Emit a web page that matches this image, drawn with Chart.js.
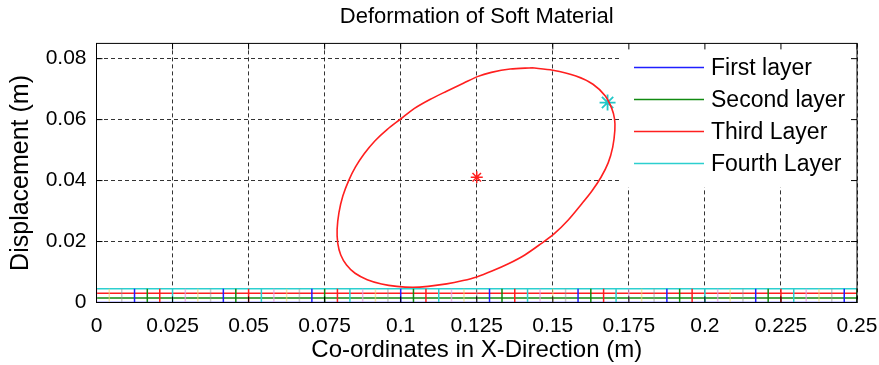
<!DOCTYPE html>
<html>
<head>
<meta charset="utf-8">
<script src="https://cdn.jsdelivr.net/npm/chart.js@4.4.0/dist/chart.umd.min.js"></script>
<style>
    html, body { margin: 0; padding: 0; background: #fff; }
    #wrap { width: 879px; height: 365px; }
</style>
</head>
<body>
<div id="wrap"><canvas id="deformChart"></canvas></div>
<script>
// Axis ticks
const xTicks = [0, 0.025, 0.05, 0.075, 0.1, 0.125, 0.15, 0.175, 0.2, 0.225, 0.25];
const yTicks = [0, 0.02, 0.04, 0.06, 0.08];

// Layers (straight lines along the bottom)
const layerNames = ['First layer', 'Second layer', 'Third Layer', 'Fourth Layer'];
const layerY = [0, 0.0015, 0.003, 0.0045];
const layerSpan = [0, 0.25];

// Mesh node positions on the layers, grouped by the colour they are drawn in
const nodesMagenta = [0, 0.0292, 0.0583, 0.0875, 0.1167, 0.1458, 0.175, 0.2042, 0.2333];
const nodesYellow = [0.0042, 0.0333, 0.0625, 0.0917, 0.1208, 0.15, 0.1792, 0.2083, 0.2375];
const nodesBlack = [0.0083, 0.0375, 0.0667, 0.0958, 0.125, 0.1542, 0.1833, 0.2125, 0.2417];
const nodesBlue = [0.0125, 0.0417, 0.0708, 0.1, 0.1292, 0.1583, 0.1875, 0.2167, 0.2458];
const nodesGreen = [0.0167, 0.0458, 0.075, 0.1042, 0.1333, 0.1625, 0.1917, 0.2208, 0.25];
const nodesRed = [0.0208, 0.05, 0.0792, 0.1083, 0.1375, 0.1667, 0.1958, 0.225];
const nodesCyan = [0.025, 0.0542, 0.0833, 0.1125, 0.1417, 0.1708, 0.2, 0.2292];

// Deformed contour (closed loop)
const contourX = [0.1431, 0.1360, 0.1298, 0.1252, 0.1206, 0.1151, 0.1096, 0.1044, 0.1000, 0.0956,
    0.0915, 0.0880, 0.0851, 0.0829, 0.0810, 0.0797, 0.0791, 0.0793, 0.0803, 0.0822,
    0.0850, 0.0890, 0.0937, 0.0987, 0.1040, 0.1090, 0.1151, 0.1205, 0.1250, 0.1300,
    0.1354, 0.1408, 0.1460, 0.1505, 0.1550, 0.1592, 0.1628, 0.1658, 0.1682, 0.1697,
    0.1704, 0.1703, 0.1694, 0.1672, 0.1632, 0.1576, 0.1500, 0.1431];
const contourY = [0.0770, 0.0766, 0.0755, 0.0741, 0.0719, 0.0693, 0.0666, 0.0636, 0.0602, 0.0568,
    0.0530, 0.0488, 0.0444, 0.0400, 0.0350, 0.0295, 0.0240, 0.0195, 0.0156, 0.0123,
    0.0096, 0.0075, 0.0061, 0.0053, 0.0050, 0.0053, 0.0061, 0.0072, 0.0084, 0.0103,
    0.0127, 0.0156, 0.0192, 0.0226, 0.0270, 0.0320, 0.0365, 0.0410, 0.0458, 0.0510,
    0.0565, 0.0602, 0.0636, 0.0678, 0.0716, 0.0743, 0.0762, 0.0770];
const centerPoint = [0.125, 0.0411];
const edgePoint = [0.168, 0.0656];

const layerColors = ['#1f1fff', '#118a11', '#ff1f1f', '#2ccfcf'];
const fontFamily = "'Liberation Sans', Arial, Helvetica, sans-serif";

// vertical segments through all layers at every node
function nodeSegments(xs) {
    const pts = [];
    xs.forEach(x => {
        pts.push({ x: x, y: layerY[0] }, { x: x, y: layerY[layerY.length - 1] }, { x: x, y: null });
    });
    return pts;
}

const nodeGroups = [
    { xs: nodesMagenta, color: 'rgba(225,160,225,0.7)' },
    { xs: nodesYellow, color: 'rgba(235,215,120,0.6)' },
    { xs: nodesBlack, color: 'rgba(150,150,150,0.5)' },
    { xs: nodesBlue, color: layerColors[0] },
    { xs: nodesGreen, color: layerColors[1] },
    { xs: nodesRed, color: layerColors[2] },
    { xs: nodesCyan, color: layerColors[3] }
];

const datasets = [];

nodeGroups.forEach(g => {
    datasets.push({
        data: nodeSegments(g.xs),
        borderColor: g.color,
        borderWidth: 1.5,
        showLine: true,
        spanGaps: false,
        pointRadius: 0
    });
});

layerY.forEach((yv, i) => {
    datasets.push({
        label: layerNames[i],
        data: [{ x: layerSpan[0], y: yv }, { x: layerSpan[1], y: yv }],
        borderColor: layerColors[i],
        borderWidth: 1.5,
        showLine: true,
        pointRadius: 0
    });
});

datasets.push({
    data: contourX.map((x, i) => ({ x: x, y: contourY[i] })),
    borderColor: '#ff1f1f',
    borderWidth: 1.6,
    showLine: true,
    tension: 0.3,
    pointRadius: 0
});

datasets.push({
    data: [{ x: centerPoint[0], y: centerPoint[1] }],
    borderColor: '#ff1f1f',
    borderWidth: 1.5,
    pointStyle: 'star',
    pointRadius: 6
});

datasets.push({
    data: [{ x: edgePoint[0], y: edgePoint[1] }],
    borderColor: '#22c8c8',
    borderWidth: 1.8,
    pointStyle: 'star',
    pointRadius: 8
});

// legend inside the axes, frame box and inward tick marks
const framePlugin = {
    id: 'frame',
    afterDatasetsDraw(chart) {
        const { ctx, chartArea: a, scales } = chart;
        ctx.save();

        // legend box
        const boxW = 237, boxH = 144;
        const bx = a.right - boxW, by = a.top;
        ctx.fillStyle = '#fff';
        ctx.fillRect(bx, by, boxW, boxH);
        ctx.font = '23px ' + fontFamily;
        ctx.textBaseline = 'middle';
        ctx.textAlign = 'left';
        layerNames.forEach((name, i) => {
            const ry = by + 24 + i * 32;
            ctx.strokeStyle = layerColors[i];
            ctx.lineWidth = 1.5;
            ctx.beginPath();
            ctx.moveTo(bx + 14, ry);
            ctx.lineTo(bx + 84, ry);
            ctx.stroke();
            ctx.fillStyle = '#000';
            ctx.fillText(name, bx + 91, ry + 1);
        });

        // frame
        ctx.strokeStyle = '#000';
        ctx.lineWidth = 1;
        ctx.strokeRect(a.left, a.top, a.right - a.left, a.bottom - a.top);

        // inward ticks
        ctx.beginPath();
        xTicks.forEach(v => {
            const px = scales.x.getPixelForValue(v);
            ctx.moveTo(px, a.bottom); ctx.lineTo(px, a.bottom - 6);
            ctx.moveTo(px, a.top); ctx.lineTo(px, a.top + 6);
        });
        yTicks.forEach(v => {
            const py = scales.y.getPixelForValue(v);
            ctx.moveTo(a.left, py); ctx.lineTo(a.left + 6, py);
            ctx.moveTo(a.right, py); ctx.lineTo(a.right - 6, py);
        });
        ctx.stroke();
        ctx.restore();
    }
};

const ctx = document.getElementById('deformChart').getContext('2d');
const deformChart = new Chart(ctx, {
    type: 'scatter',
    data: { datasets: datasets },
    options: {
        responsive: true,
        maintainAspectRatio: false,
        animation: false,
        layout: { padding: { right: 22 } },
        plugins: {
            legend: { display: false },
            tooltip: { enabled: false },
            title: {
                display: true,
                text: 'Deformation of Soft Material',
                fullSize: false,
                color: '#000',
                font: { family: fontFamily, size: 22, weight: 'normal' },
                padding: { top: 4, bottom: 13 }
            }
        },
        scales: {
            x: {
                type: 'linear',
                min: 0,
                max: 0.25,
                afterBuildTicks: scale => { scale.ticks = xTicks.map(v => ({ value: v })); },
                afterFit: scale => {
                    scale.height = 62.5;
                    scale.paddingLeft = 0;
                    scale.paddingRight = 0;
                },
                grid: { color: 'rgba(0,0,0,0.8)', lineWidth: 1, drawTicks: false },
                border: { display: false, dash: [4, 3] },
                ticks: {
                    color: '#000',
                    padding: 11,
                    maxRotation: 0,
                    font: { family: fontFamily, size: 21 },
                    callback: v => String(v)
                },
                title: {
                    display: true,
                    text: 'Co-ordinates in X-Direction (m)',
                    color: '#000',
                    font: { family: fontFamily, size: 24 },
                    padding: { bottom: 0 }
                }
            },
            y: {
                type: 'linear',
                min: 0,
                max: 0.085,
                afterBuildTicks: scale => { scale.ticks = yTicks.map(v => ({ value: v })); },
                afterFit: scale => {
                    scale.width = 96.5;
                    scale.paddingTop = 0;
                    scale.paddingBottom = 0;
                },
                grid: { color: 'rgba(0,0,0,0.8)', lineWidth: 1, drawTicks: false },
                border: { display: false, dash: [4, 3] },
                ticks: {
                    color: '#000',
                    padding: 10,
                    font: { family: fontFamily, size: 21 },
                    callback: v => String(v)
                },
                title: {
                    display: true,
                    text: 'Displacement (m)',
                    color: '#000',
                    font: { family: fontFamily, size: 25 },
                    padding: { top: 6 }
                }
            }
        }
    },
    plugins: [framePlugin]
});
</script>
</body>
</html>
